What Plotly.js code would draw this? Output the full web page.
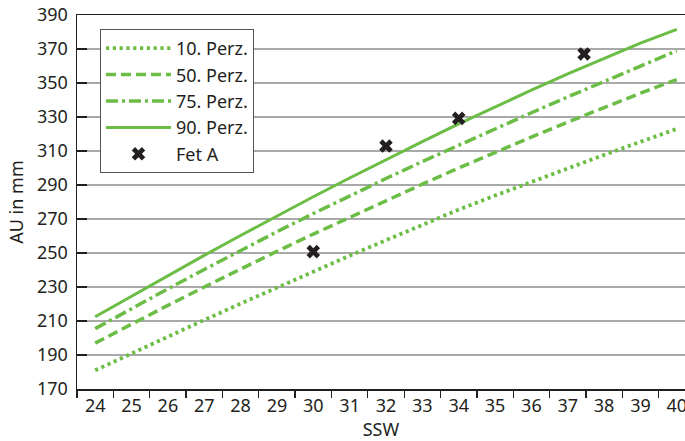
<!DOCTYPE html>
<html>
<head>
<meta charset="utf-8">
<script src="https://cdn.plot.ly/plotly-3.0.1.min.js"></script>
<style>html,body{margin:0;padding:0;background:#fff;}#chart{width:685px;height:441px;}</style>
</head>
<body>
<div id="chart"></div>
<script>
// SSW (gestational weeks)
var weeks = [24,25,26,27,28,29,30,31,32,33,34,35,36,37,38,39,40];
var weekLabels = ["24","25","26","27","28","29","30","31","32","33","34","35","36","37","38","39","40"];
// AU percentiles in mm
var p10 = [181.0,191.0,200.9,210.6,220.2,229.7,239.1,248.4,257.5,266.5,275.5,283.8,291.9,299.9,307.7,315.4,323.0];
var p50 = [197.0,208.2,219.2,230.0,240.6,251.0,261.1,271.0,280.8,290.5,300.0,309.2,318.2,327.0,335.6,344.0,352.0];
var p75 = [205.5,217.3,228.9,240.3,251.5,262.5,273.2,283.6,293.8,303.8,313.5,323.1,332.5,341.8,351.0,360.1,369.0];
var p90 = [212.5,224.7,236.7,248.6,260.3,271.8,283.1,294.1,304.9,315.5,325.9,336.0,345.8,355.3,364.5,373.4,381.6];
// Fetus A measurements
var fetWeeks = [30, 32, 34, 37.45];
var fetAU = [250.8, 312.9, 329.2, 367.1];
var seriesNames = ["10. Perz.", "50. Perz.", "75. Perz.", "90. Perz.", "Fet A"];

var green = '#6cbd45';
var dark = '#231f20';
var font = '"Noto Sans", "Open Sans", sans-serif';

var traces = [
  {x: weeks, y: p10, name: seriesNames[0], mode: 'lines', line: {color: green, width: 3.8, dash: '3.2px,3.6px'}},
  {x: weeks, y: p50, name: seriesNames[1], mode: 'lines', line: {color: green, width: 3.5, dash: '10px,5px'}},
  {x: weeks, y: p75, name: seriesNames[2], mode: 'lines', line: {color: green, width: 3.5, dash: '12px,4px,3px,4px'}},
  {x: weeks, y: p90, name: seriesNames[3], mode: 'lines', line: {color: green, width: 3}},
  {x: fetWeeks, y: fetAU, name: seriesNames[4], mode: 'markers', marker: {symbol: 'x', size: 12, color: dark, line: {width: 0}}}
];

var layout = {
  width: 685, height: 441,
  margin: {l: 77, r: 0, t: 15, b: 52, pad: 0},
  paper_bgcolor: '#fff', plot_bgcolor: '#fff',
  font: {family: font, size: 18, color: dark},
  showlegend: true,
  legend: {
    x: 0.0378, y: 0.9626, xanchor: 'left', yanchor: 'top',
    bgcolor: '#fff', bordercolor: '#555', borderwidth: 1,
    font: {family: font, size: 18, color: dark},
    itemwidth: 65
  },
  xaxis: {
    range: [23.5, 40.226],
    tickmode: 'array', tickvals: weeks, ticktext: weekLabels,
    ticks: '', showgrid: false, zeroline: false,
    showline: true, linecolor: dark, linewidth: 1.5, mirror: true,
    ticklabeloverflow: 'allow',
    tickfont: {family: font, size: 18, color: dark},
    minor: {tickmode: 'array', tickvals: weeks.map(function(w){return w - 0.5;}), ticks: 'outside', ticklen: 7, tickwidth: 1.3, tickcolor: dark, showgrid: false},
    title: {text: 'SSW', font: {family: font, size: 18, color: dark}, standoff: 6}
  },
  yaxis: {
    range: [170, 390],
    tickmode: 'linear', tick0: 170, dtick: 20,
    ticks: 'inside', ticklen: 10, tickwidth: 1.3, tickcolor: dark,
    showgrid: true, gridcolor: '#a9a9a9', gridwidth: 1.2,
    zeroline: false, showline: true, linecolor: dark, linewidth: 1.5,
    tickfont: {family: font, size: 18, color: dark},
    ticklabelstandoff: 4,
    title: {text: 'AU in mm', font: {family: font, size: 18, color: dark}, standoff: 8}
  }
};

Plotly.newPlot('chart', traces, layout, {displayModeBar: false, staticPlot: true});
</script>
</body>
</html>
